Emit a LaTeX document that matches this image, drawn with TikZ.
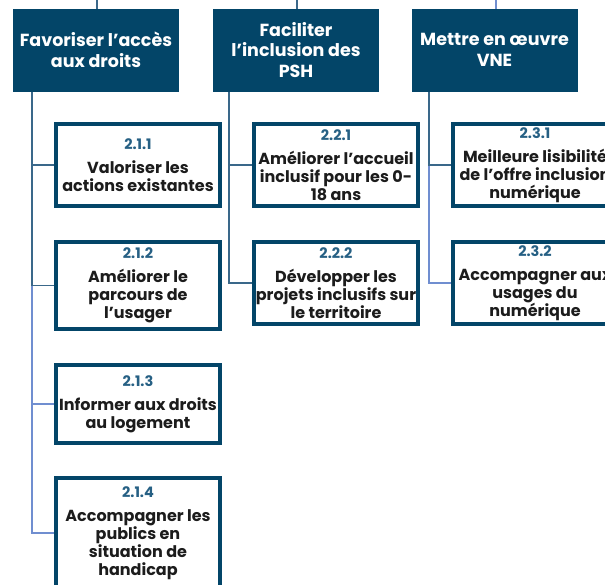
\documentclass[tikz,border=0pt]{standalone}
\usepackage{fontspec}
\setmainfont{Poppins}
\usetikzlibrary{backgrounds}
\definecolor{navy}{RGB}{3,69,104}
\definecolor{numc}{RGB}{38,96,132}
\definecolor{txt}{RGB}{28,28,28}
\definecolor{lnd}{RGB}{58,104,138}
\definecolor{lnl}{RGB}{112,142,208}
\newcommand\subnum[1]{{\color{numc}\fontsize{14.5}{18}\selectfont #1}\\[6pt]}
\begin{document}
\begin{tikzpicture}[x=1pt,y=-1pt,
 head/.style={fill=navy, draw=none, minimum width=166pt, minimum height=83pt, inner sep=0pt, outer sep=0pt, align=center, text=white, font=\bfseries\fontsize{17.5}{20.5}\selectfont},
 sub/.style={draw=navy, line width=4pt, fill=white, minimum width=164pt, inner sep=0pt, outer sep=0pt, align=center, text=txt, font=\bfseries\fontsize{16}{18}\selectfont},
 conn/.style={line width=1.5pt, draw=lnd},
 connl/.style={line width=1.5pt, draw=lnl}]
\path[use as bounding box] (0,0) rectangle (605,584);
\clip (0,0) rectangle (605,584);
% headings
\node[head] (h1) at (96,50) {Favoriser l’accès\\aux droits};
\node[head] (h2) at (296,50) {Faciliter\\l’inclusion des\\PSH};
\node[head] (h3) at (494.5,50) {Mettre en œuvre\\VNE};
% children
\node[sub, minimum height=82pt] (c11) at (138,165) {\subnum{2.1.1}Valoriser les\\actions existantes};
\node[sub, minimum height=87pt] (c12) at (138,285.5) {\subnum{2.1.2}Améliorer le\\parcours de\\l’usager};
\node[sub, minimum height=78pt] (c13) at (138,404) {\subnum{2.1.3}Informer aux droits\\au logement};
\node[sub, minimum height=110pt] (c14) at (138,533) {\subnum{2.1.4}Accompagner les\\publics en\\situation de\\handicap};
\node[sub, minimum height=82pt] (c21) at (336,165) {\subnum{2.2.1}Améliorer l’accueil\\inclusif pour les 0-\\18 ans};
\node[sub, minimum height=82pt] (c22) at (336,283) {\subnum{2.2.2}Développer les\\projets inclusifs sur\\le territoire};
\node[sub, minimum height=82pt] (c31) at (535,165) {\subnum{2.3.1}Meilleure lisibilité\\de l'offre inclusion\\numérique};
\node[sub, minimum height=82pt] (c32) at (535,283) {\subnum{2.3.2}Accompagner aux\\usages du\\numérique};
% connector anchors
\coordinate (t1) at (97,0);
\coordinate (t2) at (297,0);
\coordinate (t3) at (496,0);
\coordinate (v1) at (32,0);
\coordinate (v2) at (229,0);
\coordinate (v3) at (429,0);
\begin{scope}[on background layer]
\draw[conn] (t1) -- (h1.north -| t1);
\draw[conn] (t2) -- (h2.north -| t2);
\draw[connl] (t3) -- (h3.north -| t3);
\draw[connl] (h1.south -| v1) |- (c14.west);
\draw[connl] (h1.south -| v1) |- (c13.west);
\draw[conn] (h1.south -| v1) |- (c12.west);
\draw[conn] (h1.south -| v1) |- (c11.west);
\draw[conn] (h2.south -| v2) |- (c22.west);
\draw[conn] (h2.south -| v2) |- (c21.west);
\draw[connl] (h3.south -| v3) |- (c32.west);
\draw[conn] (h3.south -| v3) |- (c31.west);
\end{scope}
\end{tikzpicture}
\end{document}
